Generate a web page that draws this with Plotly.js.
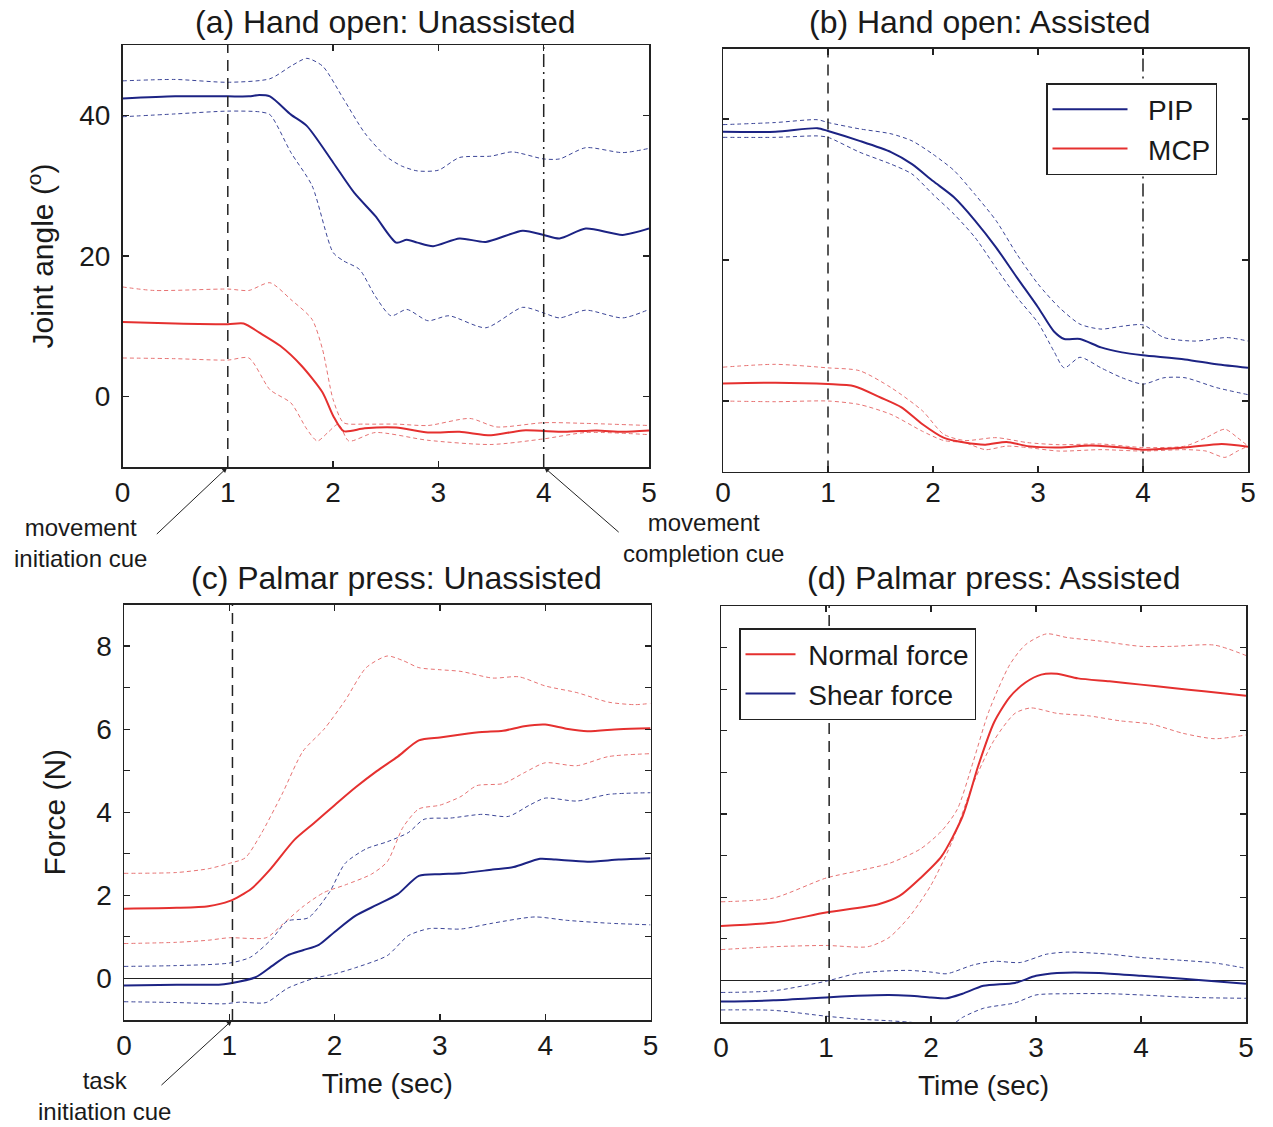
<!DOCTYPE html>
<html>
<head>
<meta charset="utf-8">
<script src="https://cdn.plot.ly/plotly-3.0.1.min.js"></script>
<style>html,body{margin:0;padding:0;background:#fff;}#chart{width:1273px;height:1127px;}</style>
</head>
<body>
<div id="chart"></div>
<script>
// ---------- Panel (a): Hand open, Unassisted (joint angle, deg) ----------
const aT_pip  = [0,0.5,1,1.2,1.3,1.4,1.6,1.75,2.0,2.2,2.4,2.6,2.7,2.8,2.95,3.2,3.45,3.8,4.0,4.15,4.4,4.75,5.0];
const aV_pip  = [42.4,42.7,42.7,42.7,42.9,42.7,40.1,38.5,33.3,29.0,25.7,21.9,22.3,21.9,21.4,22.5,22.0,23.6,23.0,22.5,23.9,23.0,23.9];
const aT_pipU = [0,0.5,1,1.4,1.6,1.75,1.9,2.1,2.3,2.5,2.65,2.8,3.0,3.2,3.5,3.7,4.0,4.15,4.4,4.75,5.0];
const aV_pipU = [44.9,45.1,44.7,45.2,47.0,48.1,47.0,42.3,37.5,34.2,32.8,32.1,32.2,34.0,34.2,34.8,33.8,33.8,35.4,34.7,35.3];
const aT_pipL = [0,0.5,1,1.3,1.4,1.6,1.8,2.0,2.1,2.25,2.4,2.55,2.7,2.9,3.1,3.45,3.8,4.0,4.15,4.4,4.75,5.0];
const aV_pipL = [39.8,40.2,40.6,40.5,40.1,34.7,30.0,20.5,19.3,18.1,14.3,11.5,12.4,10.8,11.5,9.8,12.7,11.9,11.2,12.3,11.2,12.4];
const aT_mcp  = [0,0.5,1,1.15,1.3,1.5,1.7,1.9,2.0,2.1,2.3,2.6,2.9,3.2,3.5,3.8,4.2,4.5,4.75,5.0];
const aV_mcp  = [10.6,10.4,10.3,10.4,9.1,7.2,4.4,0.6,-2.7,-4.9,-4.5,-4.4,-5.1,-5.0,-5.5,-4.8,-5.0,-4.8,-5.0,-4.8];
const aT_mcpU = [0,0.3,1.0,1.2,1.4,1.6,1.8,1.9,2.0,2.1,2.3,2.6,2.9,3.3,3.55,4.0,4.4,5.0];
const aV_mcpU = [15.6,15.1,15.3,15.1,16.2,13.8,11.0,6.7,-0.4,-3.7,-3.9,-3.9,-4.1,-3.1,-4.3,-3.7,-3.8,-4.1];
const aT_mcpL = [0,0.5,1.0,1.2,1.4,1.6,1.75,1.85,1.95,2.05,2.15,2.4,2.9,3.5,4.0,4.4,5.0];
const aV_mcpL = [5.5,5.4,5.2,5.5,1.0,-0.9,-4.6,-6.3,-5.1,-3.9,-6.3,-5.1,-6.2,-6.8,-6.0,-5.1,-5.4];

// ---------- Panel (b): Hand open, Assisted ----------
const bT_pip  = [0,0.5,0.9,1.0,1.3,1.6,1.8,2.0,2.2,2.4,2.6,2.8,3.0,3.15,3.25,3.4,3.6,3.8,4.0,4.4,4.7,5.0];
const bV_pip  = [38.2,38.2,38.7,38.3,36.9,35.3,33.6,31.2,28.9,25.6,21.8,17.5,13.3,9.9,8.8,8.8,7.6,6.9,6.5,5.9,5.2,4.7];
const bT_pipU = [0,0.5,0.9,1.0,1.3,1.6,1.8,2.0,2.2,2.4,2.6,2.8,3.0,3.2,3.4,3.6,3.8,4.0,4.2,4.5,4.8,5.0];
const bV_pipU = [39.2,39.5,39.9,39.5,38.6,37.9,36.9,35.0,32.7,29.3,25.6,20.8,16.6,13.3,10.9,10.2,10.6,10.8,9.0,8.5,9.0,8.5];
const bT_pipL = [0,0.5,0.9,1.0,1.3,1.6,1.8,2.0,2.2,2.4,2.6,2.8,3.0,3.15,3.25,3.4,3.6,3.8,4.0,4.2,4.4,4.7,5.0];
const bV_pipL = [37.4,37.4,37.6,37.4,35.3,33.6,32.2,29.3,26.5,23.2,18.9,14.7,11.1,7.1,4.7,6.2,4.7,3.3,2.4,3.3,3.3,1.9,0.9];
const bT_mcp  = [0,0.5,1.0,1.25,1.5,1.7,1.9,2.1,2.3,2.5,2.7,2.9,3.2,3.5,3.8,4.0,4.4,4.75,5.0];
const bV_mcp  = [2.5,2.6,2.4,2.1,0.5,-0.9,-3.3,-5.2,-5.9,-6.2,-5.8,-6.4,-6.6,-6.3,-6.6,-6.9,-6.6,-6.1,-6.5];
const bT_mcpU = [0,0.5,1.0,1.3,1.6,1.9,2.1,2.3,2.6,2.9,3.2,3.6,4.0,4.4,4.6,4.78,4.9,5.0];
const bV_mcpU = [4.8,5.2,4.7,4.3,1.9,-1.4,-4.7,-5.6,-5.2,-5.9,-6.2,-6.1,-6.6,-6.4,-5.2,-4.0,-5.2,-6.4];
const bT_mcpL = [0,0.5,1.0,1.3,1.6,1.9,2.1,2.3,2.5,2.7,2.9,3.2,3.6,4.0,4.4,4.6,4.78,4.9,5.0];
const bV_mcpL = [0.0,-0.1,0.0,-0.5,-1.9,-4.3,-5.6,-5.9,-6.9,-6.4,-6.6,-7.1,-6.9,-7.1,-6.9,-7.1,-8.0,-7.1,-6.4];

// ---------- Panel (c): Palmar press, Unassisted (force, N) ----------
const cT_nor  = [0,0.5,0.8,1.0,1.21,1.38,1.62,1.8,2.0,2.2,2.4,2.6,2.8,3.0,3.2,3.4,3.6,3.8,4.0,4.2,4.4,4.7,5.0];
const cV_nor  = [1.68,1.70,1.74,1.86,2.16,2.60,3.34,3.73,4.17,4.60,4.99,5.34,5.73,5.80,5.87,5.93,5.96,6.07,6.11,6.01,5.95,6.00,6.02];
const cT_norU = [0,0.5,0.8,1.0,1.15,1.3,1.5,1.7,1.9,2.1,2.3,2.5,2.65,2.8,3.0,3.2,3.5,3.75,4.0,4.3,4.6,4.85,5.0];
const cV_norU = [2.53,2.55,2.64,2.77,2.90,3.47,4.43,5.47,6.00,6.69,7.48,7.76,7.65,7.48,7.43,7.39,7.23,7.26,7.04,6.88,6.65,6.59,6.62];
const cT_norL = [0,0.5,0.8,1.0,1.35,1.5,1.7,1.9,2.1,2.35,2.5,2.65,2.8,3.0,3.2,3.35,3.6,3.8,4.0,4.3,4.6,5.0];
const cV_norL = [0.84,0.87,0.92,0.98,0.98,1.29,1.73,2.07,2.25,2.51,2.81,3.64,4.08,4.17,4.38,4.64,4.69,4.95,5.19,5.12,5.34,5.41];
const cT_she  = [0,0.5,0.9,1.0,1.25,1.4,1.55,1.7,1.85,2.0,2.2,2.4,2.6,2.8,3.0,3.2,3.5,3.7,3.95,4.1,4.4,4.7,5.0];
const cV_she  = [-0.17,-0.15,-0.15,-0.12,0.03,0.29,0.55,0.68,0.81,1.12,1.51,1.77,2.03,2.47,2.51,2.53,2.62,2.68,2.88,2.86,2.81,2.86,2.89];
const cT_sheU = [0,0.5,1.0,1.2,1.4,1.55,1.75,1.95,2.1,2.3,2.5,2.7,2.85,3.1,3.4,3.65,3.85,4.0,4.3,4.6,5.0];
const cV_sheU = [0.29,0.31,0.37,0.51,0.94,1.38,1.46,2.07,2.77,3.12,3.29,3.51,3.83,3.86,3.95,3.90,4.17,4.34,4.27,4.43,4.47];
const cT_sheL = [0,0.5,0.95,1.1,1.35,1.55,1.8,2.0,2.2,2.5,2.7,2.9,3.2,3.5,3.9,4.2,4.6,5.0];
const cV_sheL = [-0.56,-0.58,-0.61,-0.57,-0.58,-0.24,0.00,0.11,0.26,0.55,1.03,1.20,1.19,1.33,1.48,1.40,1.33,1.29];

// ---------- Panel (d): Palmar press, Assisted ----------
const dT_nor  = [0,0.5,1.0,1.5,1.7,1.9,2.1,2.3,2.45,2.6,2.75,2.9,3.05,3.2,3.4,3.7,4.0,4.3,4.6,5.0];
const dV_nor  = [1.31,1.39,1.63,1.83,2.03,2.46,2.98,3.94,5.16,6.20,6.81,7.16,7.35,7.37,7.26,7.19,7.11,7.03,6.95,6.84];
const dT_norU = [0,0.5,1.0,1.3,1.6,1.9,2.1,2.25,2.4,2.55,2.75,2.9,3.1,3.3,3.6,4.0,4.3,4.7,5.0];
const dV_norU = [1.89,1.98,2.46,2.63,2.81,3.16,3.59,4.11,5.24,6.46,7.59,8.07,8.33,8.24,8.16,8.03,8.03,8.06,7.81];
const dT_norL = [0,0.5,1.0,1.4,1.6,1.8,2.0,2.2,2.4,2.6,2.8,2.95,3.2,3.5,3.8,4.1,4.4,4.7,5.0];
const dV_norL = [0.74,0.81,0.84,0.81,1.03,1.55,2.29,3.33,4.72,5.77,6.42,6.55,6.42,6.36,6.24,6.16,5.94,5.81,5.90];
const dT_she  = [0,0.5,1.0,1.3,1.6,1.8,2.0,2.15,2.3,2.5,2.8,3.0,3.2,3.6,4.0,4.4,5.0];
const dV_she  = [-0.51,-0.48,-0.41,-0.37,-0.35,-0.37,-0.41,-0.43,-0.32,-0.13,-0.06,0.11,0.18,0.18,0.11,0.04,-0.08];
const dT_sheU = [0,0.5,1.0,1.3,1.6,1.8,2.0,2.15,2.4,2.6,2.85,3.1,3.3,3.7,4.0,4.4,4.7,5.0];
const dV_sheU = [-0.29,-0.25,-0.02,0.17,0.23,0.24,0.20,0.16,0.37,0.46,0.43,0.63,0.68,0.63,0.55,0.48,0.42,0.29];
const dT_sheL = [0,0.5,1.0,1.3,1.6,1.85,2.0,2.15,2.3,2.5,2.8,3.0,3.3,3.7,4.0,4.5,5.0];
const dV_sheL = [-0.71,-0.72,-0.86,-0.93,-0.97,-1.02,-1.10,-1.15,-0.89,-0.67,-0.54,-0.35,-0.32,-0.32,-0.35,-0.41,-0.43];

// ---------- cue times and tick labels ----------
const cueInitA = 1, cueDoneA = 4;
const cueInitB = 1, cueDoneB = 4;
const cueTaskC = 1.03, cueTaskD = 1.03;
const xTicks = [0,1,2,3,4,5];
const angleTicks = [0,20,40];
const forceTicks = [0,2,4,6,8];

const BLUE = '#1c2384', BLUE_D = '#3b4597', RED = '#e5302f', RED_D = '#e77373';
const FONT = 'Liberation Sans, Arial, Helvetica, sans-serif';

function solid(x, y, color, xa, ya, name, legend) {
  const tr = {x, y, xaxis: xa, yaxis: ya, type: 'scatter', mode: 'lines',
    line: {color, width: 2, shape: 'spline', smoothing: 0.7}, hoverinfo: 'skip'};
  if (name) { tr.name = name; tr.showlegend = true; tr.legend = legend; } else tr.showlegend = false;
  return tr;
}
function dashed(x, y, color, xa, ya) {
  return {x, y, xaxis: xa, yaxis: ya, type: 'scatter', mode: 'lines', showlegend: false,
    line: {color, width: 1, dash: '4px,3px', shape: 'spline', smoothing: 0.7}, hoverinfo: 'skip'};
}

const data = [
  dashed(aT_pipU, aV_pipU, BLUE_D, 'x', 'y'), dashed(aT_pipL, aV_pipL, BLUE_D, 'x', 'y'),
  dashed(aT_mcpU, aV_mcpU, RED_D, 'x', 'y'), dashed(aT_mcpL, aV_mcpL, RED_D, 'x', 'y'),
  solid(aT_pip, aV_pip, BLUE, 'x', 'y'), solid(aT_mcp, aV_mcp, RED, 'x', 'y'),

  dashed(bT_pipU, bV_pipU, BLUE_D, 'x2', 'y2'), dashed(bT_pipL, bV_pipL, BLUE_D, 'x2', 'y2'),
  dashed(bT_mcpU, bV_mcpU, RED_D, 'x2', 'y2'), dashed(bT_mcpL, bV_mcpL, RED_D, 'x2', 'y2'),
  solid(bT_pip, bV_pip, BLUE, 'x2', 'y2', '&nbsp;&nbsp;PIP', 'legend'), solid(bT_mcp, bV_mcp, RED, 'x2', 'y2', '&nbsp;&nbsp;MCP', 'legend'),

  dashed(cT_norU, cV_norU, RED_D, 'x3', 'y3'), dashed(cT_norL, cV_norL, RED_D, 'x3', 'y3'),
  dashed(cT_sheU, cV_sheU, BLUE_D, 'x3', 'y3'), dashed(cT_sheL, cV_sheL, BLUE_D, 'x3', 'y3'),
  solid(cT_nor, cV_nor, RED, 'x3', 'y3'), solid(cT_she, cV_she, BLUE, 'x3', 'y3'),

  dashed(dT_norU, dV_norU, RED_D, 'x4', 'y4'), dashed(dT_norL, dV_norL, RED_D, 'x4', 'y4'),
  dashed(dT_sheU, dV_sheU, BLUE_D, 'x4', 'y4'), dashed(dT_sheL, dV_sheL, BLUE_D, 'x4', 'y4'),
  solid(dT_nor, dV_nor, RED, 'x4', 'y4', '&nbsp;Normal force', 'legend2'), solid(dT_she, dV_she, BLUE, 'x4', 'y4', '&nbsp;Shear force', 'legend2')
];

const W = 1273, H = 1127;
const px = v => v / W, py = v => 1 - v / H;

function xaxis(d0, d1, anchor, title, lift) {
  const ax = {domain: [px(d0), px(d1)], anchor, range: [0, 5], tickvals: xTicks,
    ticks: 'inside', ticklen: 6, tickwidth: 1.3, tickcolor: '#222',
    showline: true, linecolor: '#222', linewidth: 1.5, mirror: 'ticks',
    showgrid: false, zeroline: false, fixedrange: true,
    tickfont: {family: FONT, size: 28, color: '#1a1a1a'}};
  if (lift) ax.ticklabelstandoff = -lift;
  if (title) ax.title = {text: title, font: {family: FONT, size: 28, color: '#1a1a1a'}, standoff: 13};
  return ax;
}
function yaxis(top, bottom, anchor, range, vals, labels, title, zero, standoff, minorStep) {
  const ax = {domain: [py(bottom), py(top)], anchor, range, tickvals: vals,
    showticklabels: labels, ticks: 'inside', ticklen: 6, tickwidth: 1.3, tickcolor: '#222',
    ticklabelstandoff: 5,
    showline: true, linecolor: '#222', linewidth: 1.5, mirror: 'ticks',
    showgrid: false, zeroline: zero, zerolinecolor: '#222', zerolinewidth: 1, fixedrange: true,
    tickfont: {family: FONT, size: 28, color: '#1a1a1a'}};
  if (minorStep) ax.minor = {dtick: minorStep, tick0: 0, ticks: 'inside', ticklen: 6, tickwidth: 1, tickcolor: '#222', showgrid: false};
  if (title) ax.title = {text: title, font: {family: FONT, size: 30, color: '#1a1a1a'}, standoff};
  return ax;
}

function vline(x, xa, ya, dash) {
  return {type: 'line', xref: xa, yref: ya + ' domain', x0: x, x1: x, y0: 0, y1: 1,
    line: {color: '#222', width: 1.5, dash}};
}
const LONG = '11px,7px', DASHDOT = '13px,5px,2px,5px';

const TF = {family: FONT, size: 32, color: '#1a1a1a'};
const AF = {family: FONT, size: 24, color: '#1a1a1a'};
const ARROWF = {family: FONT, size: 4, color: 'rgba(0,0,0,0)'};

function arrow(x, y, xa, ya, ax, ay) {
  return {text: '&nbsp;', xref: xa, yref: ya, x, y, showarrow: true, ax, ay, font: ARROWF,
    arrowhead: 2, arrowsize: 1, arrowwidth: 1, arrowcolor: '#222', standoff: 1, borderpad: 0};
}

const layout = {
  width: W, height: H, margin: {l: 0, r: 0, t: 0, b: 0},
  paper_bgcolor: '#fff', plot_bgcolor: '#fff', font: {family: FONT},
  xaxis:  xaxis(122.5, 649, 'y'),
  yaxis:  yaxis(45, 467, 'x', [-10, 50], angleTicks, true, 'Joint angle (<sup>o</sup>)', false, 16),
  xaxis2: xaxis(723, 1248, 'y2', null, 5),
  yaxis2: yaxis(48.5, 471.5, 'x2', [-10, 50], angleTicks, false, null, false),
  xaxis3: xaxis(124, 650.5, 'y3', 'Time (sec)'),
  yaxis3: yaxis(604.5, 1020, 'x3', [-1, 9], forceTicks, true, 'Force (N)', true, 22, 1),
  xaxis4: xaxis(721, 1246, 'y4', 'Time (sec)'),
  yaxis4: yaxis(606, 1022, 'x4', [-1, 9], forceTicks, false, null, true, 0, 1),
  legend: {x: px(1046), y: py(83), xanchor: 'left', yanchor: 'top', bgcolor: '#fff',
    bordercolor: '#222', borderwidth: 1.5, itemwidth: 75, tracegroupgap: 0,
    font: {family: FONT, size: 28, color: '#1a1a1a'}},
  legend2: {x: px(739), y: py(628), xanchor: 'left', yanchor: 'top', bgcolor: '#fff',
    bordercolor: '#222', borderwidth: 1.5, itemwidth: 50, tracegroupgap: 0,
    font: {family: FONT, size: 28, color: '#1a1a1a'}},
  shapes: [
    vline(cueInitA, 'x', 'y', LONG), vline(cueDoneA, 'x', 'y', DASHDOT),
    vline(cueInitB, 'x2', 'y2', LONG), vline(cueDoneB, 'x2', 'y2', DASHDOT),
    vline(cueTaskC, 'x3', 'y3', LONG), vline(cueTaskD, 'x4', 'y4', LONG)
  ],
  annotations: [
    {text: '(a) Hand open: Unassisted', xref: 'paper', yref: 'paper', x: px(385), y: py(22), showarrow: false, font: TF, xanchor: 'center', yanchor: 'middle'},
    {text: '(b) Hand open: Assisted', xref: 'paper', yref: 'paper', x: px(980), y: py(22), showarrow: false, font: TF, xanchor: 'center', yanchor: 'middle'},
    {text: '(c) Palmar press: Unassisted', xref: 'paper', yref: 'paper', x: px(396), y: py(578), showarrow: false, font: TF, xanchor: 'center', yanchor: 'middle'},
    {text: '(d) Palmar press: Assisted', xref: 'paper', yref: 'paper', x: px(993), y: py(578), showarrow: false, font: TF, xanchor: 'center', yanchor: 'middle'},
    {text: 'movement<br>initiation cue', xref: 'paper', yref: 'paper', x: px(80), y: py(543), showarrow: false, font: AF, xanchor: 'center', yanchor: 'middle'},
    {text: 'movement<br>completion cue', xref: 'paper', yref: 'paper', x: px(703), y: py(538), showarrow: false, font: AF, xanchor: 'center', yanchor: 'middle'},
    {text: 'task<br>initiation cue', xref: 'paper', yref: 'paper', x: px(104), y: py(1096), showarrow: false, font: AF, xanchor: 'center', yanchor: 'middle'},
    arrow(cueInitA, -10, 'x', 'y', -72, 68),
    arrow(cueDoneA, -10, 'x', 'y', 76, 66),
    arrow(cueTaskC, -1, 'x3', 'y3', -72, 66)
  ]
};

Plotly.newPlot('chart', data, layout, {staticPlot: true, displayModeBar: false});
</script>
</body>
</html>
